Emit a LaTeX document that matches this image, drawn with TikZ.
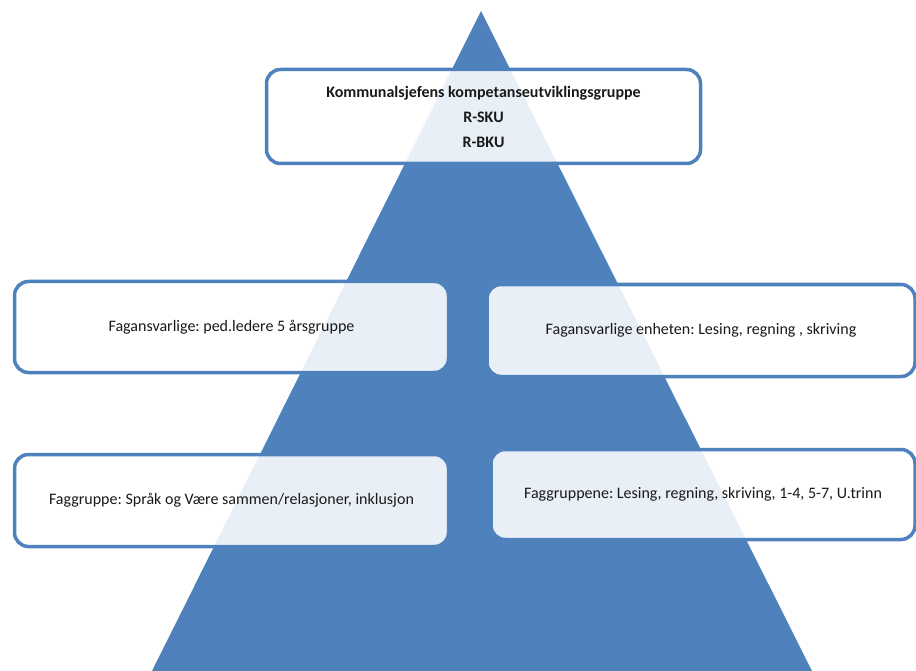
\documentclass[tikz,border=0pt]{standalone}
\usepackage{fontspec}
\setmainfont{Carlito}
\frenchspacing
\usetikzlibrary{positioning}
\definecolor{pyrblue}{RGB}{79,129,189}
\definecolor{pyrtext}{RGB}{25,25,25}

\begin{document}
\begin{tikzpicture}[x=1pt,y=-1pt,
  lvl/.style={draw=pyrblue,line width=3.5pt,rounded corners=14pt,fill=white,
    fill opacity=0.88,text opacity=1,text=pyrtext,inner sep=0pt,
    font=\fontsize{16}{19}\selectfont}]
  \useasboundingbox (0,0) rectangle (916,671);
  % pyramid behind the boxes
  \coordinate (apex) at (481,11);
  \coordinate (baseL) at (152,671);
  \coordinate (baseR) at (812,671);
  \fill[pyrblue] (apex) -- (baseL) -- (baseR) -- cycle;
  % top level
  \node[lvl,minimum width=434pt,minimum height=94pt,align=center,
    font=\bfseries\fontsize{16}{25}\selectfont] (chief) at (483.5,116.5)
    {Kommunalsjefens kompetanseutviklingsgruppe\\R-SKU\\R-BKU};
  % middle level
  \node[lvl,minimum width=434pt,minimum height=91pt] (pedled) at (231.5,327)
    {Fagansvarlige: ped.ledere 5 årsgruppe};
  \node[lvl,minimum width=428pt,minimum height=92pt] (enhet) at (701,330.5)
    {Fagansvarlige enheten: Lesing, regning , skriving};
  % bottom level
  \node[lvl,minimum width=434pt,minimum height=92pt] (sprak) at (231.5,500.5)
    {Faggruppe: Språk og Være sammen/relasjoner, inklusjon};
  \node[lvl,minimum width=424pt,minimum height=90pt] (fag) at (703,494.5)
    {Faggruppene: Lesing, regning, skriving, 1-4, 5-7, U.trinn};
\end{tikzpicture}
\end{document}
